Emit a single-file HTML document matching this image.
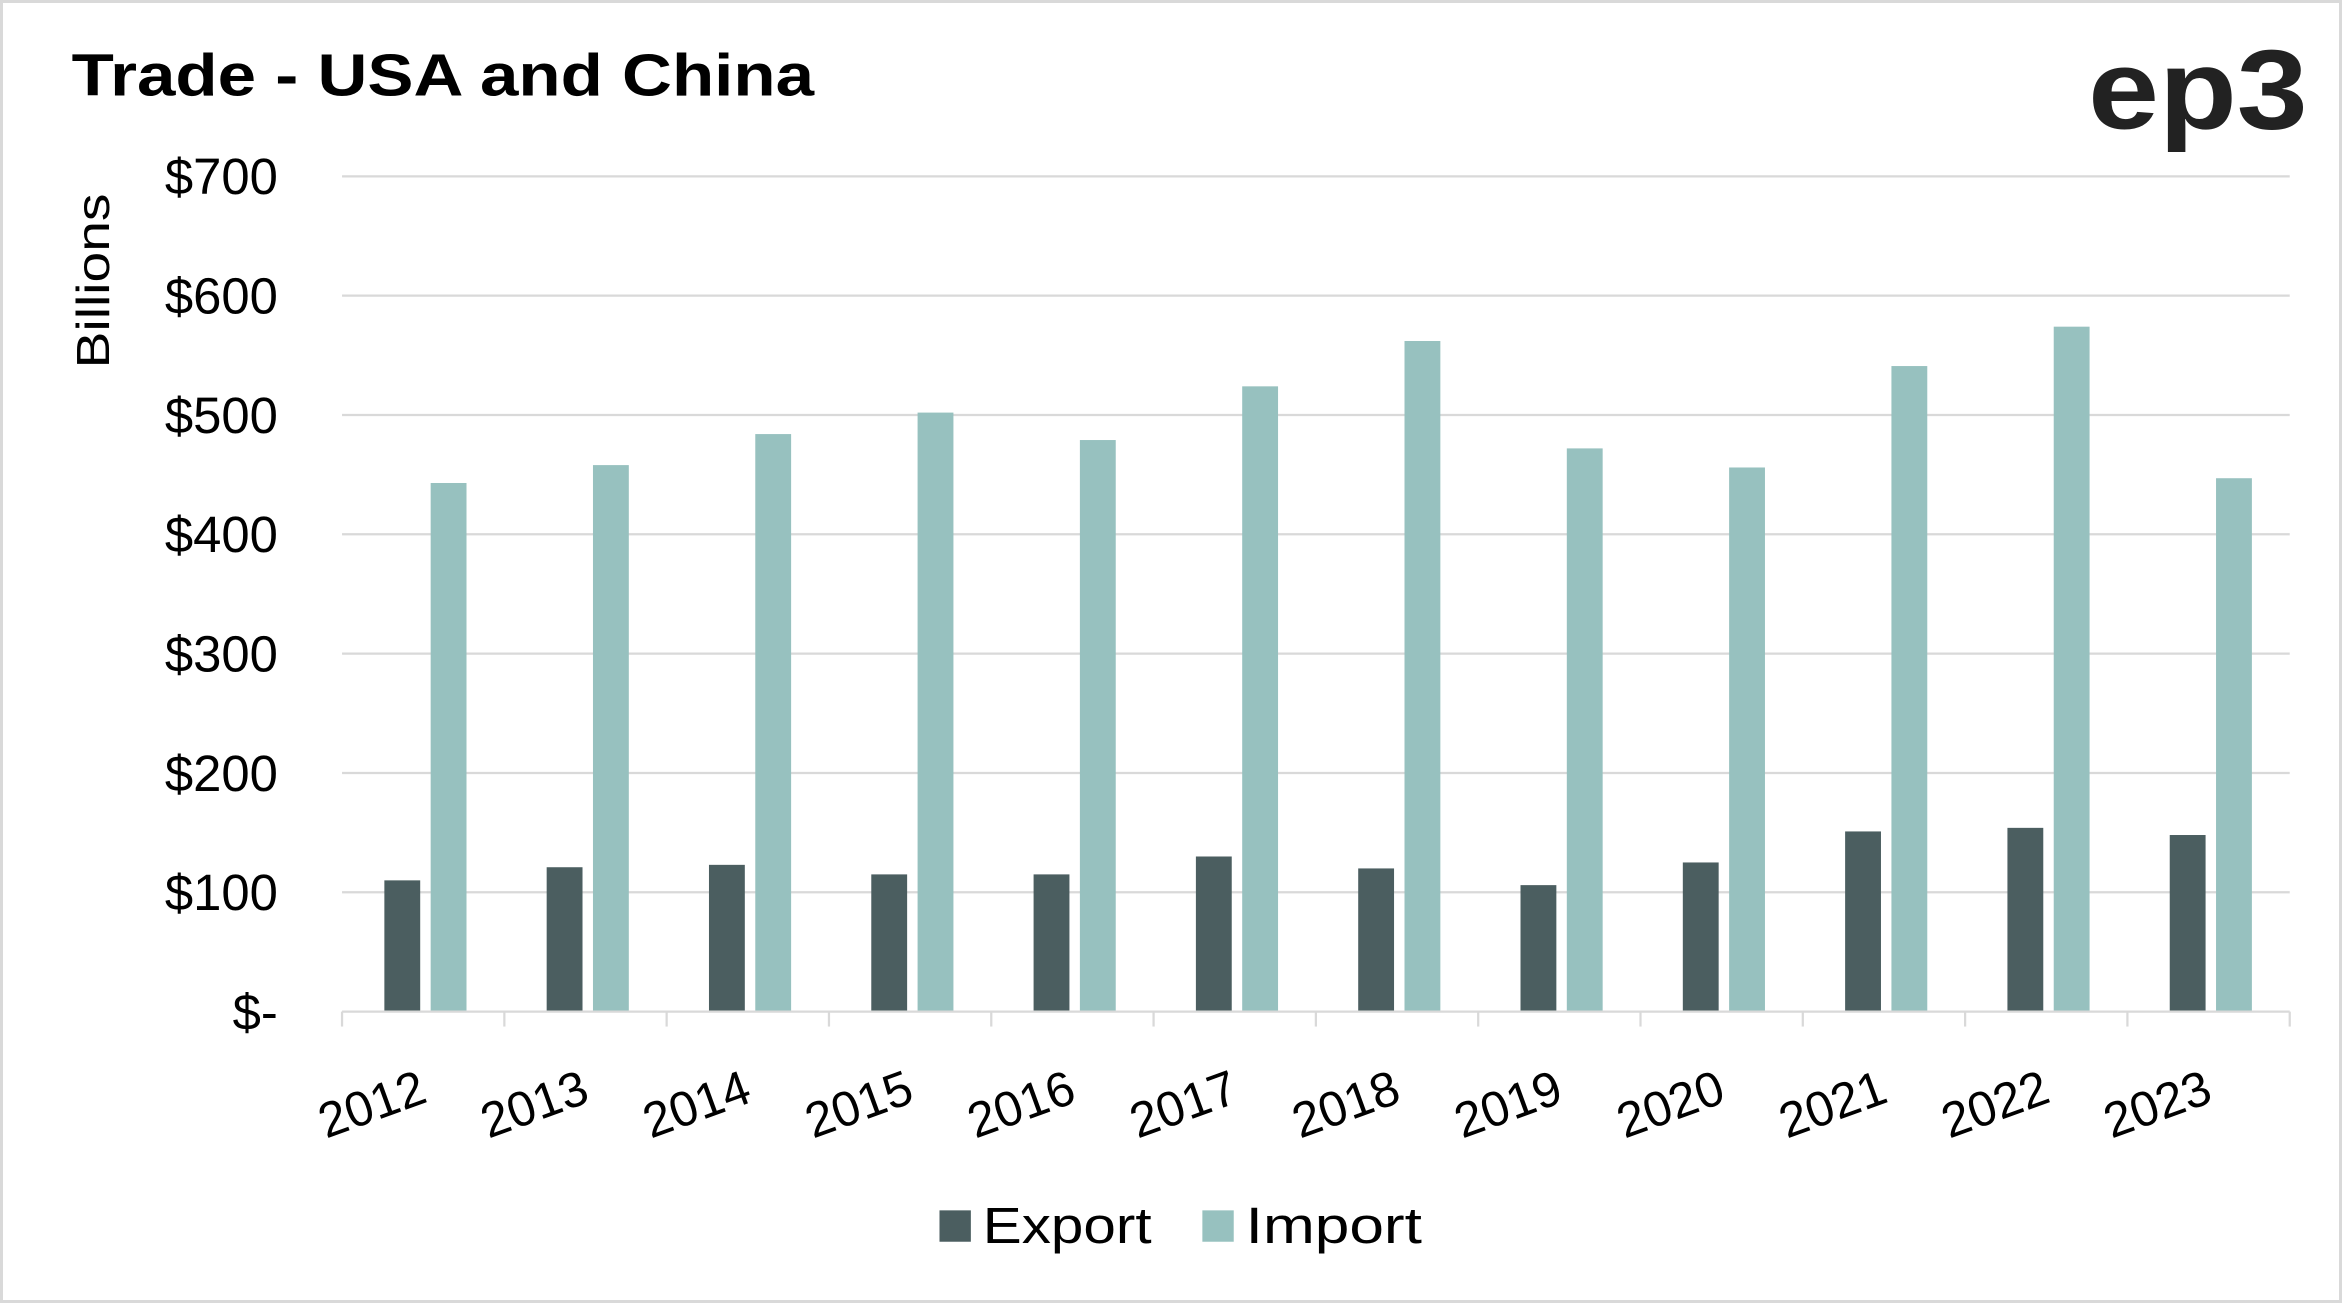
<!DOCTYPE html>
<html><head><meta charset="utf-8"><style>
html,body{margin:0;padding:0;background:#fff;}
svg{display:block;}
text{font-family:"Liberation Sans",sans-serif;}
</style></head><body>
<svg id="chart" width="2342" height="1303" viewBox="0 0 1568 872" preserveAspectRatio="none" xmlns="http://www.w3.org/2000/svg">
<rect x="1" y="1" width="1566" height="870" fill="#fff" stroke="#d9d9d9" stroke-width="2"/>
<text x="48" y="64" font-size="40" font-weight="bold" fill="#000" textLength="497" lengthAdjust="spacingAndGlyphs">Trade - USA and China</text>
<text x="1398" y="86" font-size="76" font-weight="bold" fill="#222" textLength="147" lengthAdjust="spacingAndGlyphs">ep3</text>
<text transform="translate(73,188) rotate(-90)" text-anchor="middle" font-size="31" fill="#000" textLength="117" lengthAdjust="spacingAndGlyphs">Billions</text>
<g id="grid"></g><g id="bars"></g><g id="xaxis"></g>
<g>
<rect x="629" y="810" width="21" height="21" fill="#4b5e60"/>
<text x="658" y="832" font-size="34" fill="#000" textLength="113" lengthAdjust="spacingAndGlyphs">Export</text>
<rect x="805" y="810" width="21" height="21" fill="#97c1bf"/>
<text x="834" y="832" font-size="34" fill="#000" textLength="118" lengthAdjust="spacingAndGlyphs">Import</text>
</g>
</svg>
<script>
const categories=["2012","2013","2014","2015","2016","2017","2018","2019","2020","2021","2022","2023"];
const exportValues=[110,121,123,115,115,130,120,106,125,151,154,148];
const importValues=[443,458,484,502,479,524,562,472,456,541,574,447];
const yTicks=[0,100,200,300,400,500,600,700];
const yTickLabels=["$-","$100","$200","$300","$400","$500","$600","$700"];
const NS="http://www.w3.org/2000/svg";
const x0=229,x1=1533,yBase=677,yTop=118,yMax=700;
const y=v=>yBase-(v/yMax)*(yBase-yTop);
const bw=(x1-x0)/categories.length;
function mk(t,a,p){const e=document.createElementNS(NS,t);for(const k in a)e.setAttribute(k,a[k]);p.appendChild(e);return e;}
const grid=document.getElementById('grid'),bars=document.getElementById('bars'),xa=document.getElementById('xaxis');
yTicks.forEach((v,i)=>{
  if(v>0){const l=mk('line',{x1:x0,x2:x1,y1:y(v),y2:y(v),stroke:'#d9d9d9','stroke-width':1.5},grid);
  
  }
  const t=mk('text',{x:186,y:y(v)+12,'text-anchor':'end','font-size':34,fill:'#000'},grid);
  t.textContent=yTickLabels[i];
  
  
});
const ax=mk('line',{x1:x0,x2:x1,y1:yBase,y2:yBase,stroke:'#d9d9d9','stroke-width':1.5},xa);


for(let i=0;i<=categories.length;i++){
  const tk=mk('line',{x1:x0+i*bw,x2:x0+i*bw,y1:yBase,y2:yBase+10,stroke:'#d9d9d9','stroke-width':1.5},xa);
  
  
}
categories.forEach((c,i)=>{
  const cx=x0+i*bw+bw/2;
  const e=mk('rect',{x:cx-26,y:y(exportValues[i]),width:24,height:yBase-y(exportValues[i]),fill:'#4b5e60'},bars);
  
  
  const m=mk('rect',{x:cx+5,y:y(importValues[i]),width:24,height:yBase-y(importValues[i]),fill:'#97c1bf'},bars);
  
  
  const t=mk('text',{transform:`translate(${cx+4},${yBase+60}) rotate(-20)`,'text-anchor':'end','font-size':33,fill:'#000'},xa);
  t.textContent=c;
  
  
});
</script>
</body></html>
